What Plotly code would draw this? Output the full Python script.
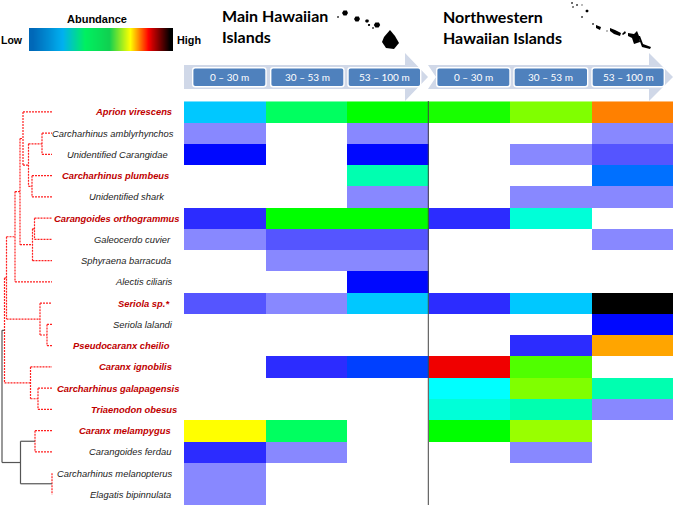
import plotly.graph_objects as go

W, H = 675, 507

# ---------- data ----------
SPECIES = ["Aprion virescens", "Carcharhinus amblyrhynchos", "Unidentified Carangidae",
           "Carcharhinus plumbeus", "Unidentified shark", "Carangoides orthogrammus",
           "Galeocerdo cuvier", "Sphyraena barracuda", "Alectis ciliaris", "Seriola sp.*",
           "Seriola lalandi", "Pseudocaranx cheilio", "Caranx ignobilis",
           "Carcharhinus galapagensis", "Triaenodon obesus", "Caranx melampygus",
           "Carangoides ferdau", "Carcharhinus melanopterus", "Elagatis bipinnulata"]
HIGHLIGHTED = [1, 0, 0, 1, 0, 1, 0, 0, 0, 1, 0, 1, 1, 1, 1, 1, 0, 0, 0]
DEPTHS = ["0 – 30 m", "30 – 53 m", "53 – 100 m"]
N = None
# abundance level per species (rows) and region/depth (columns)
ABUNDANCE = [
    [7, 11, 12, 13, 15, 19],
    [1, N, 1, N, N, 1],
    [4, N, 4, N, 1, 2],
    [N, N, 10, N, N, 6],
    [N, N, 1, N, 1, 1],
    [3, 12, 12, 3, 9, N],
    [1, 2, 2, N, N, 1],
    [N, 1, 1, N, N, N],
    [N, N, 4, N, N, N],
    [2, 1, 7, 3, 7, 21],
    [N, N, N, N, N, 4],
    [N, N, N, N, 3, 18],
    [N, 3, 5, 20, 14, N],
    [N, N, N, 8, 15, 10],
    [N, N, N, 9, 10, 1],
    [17, 11, N, 12, 16, N],
    [3, 1, N, N, 1, N],
    [1, N, N, N, N, N],
    [1, N, N, N, N, N],
]
LEGEND_LEVELS = [0, .05, .1, .15, .2, .25, .3, .35, .4, .45, .5, .55, .6, .65, .7, .75, .8, .85, .9, .95, 1]

# dendrogram: (branch x, child, child); an integer child is a row of SPECIES
TREE = (2, (4.5, (6.5, (15, (20, (23, 0, (28.5, (42, 1, 2), (32, 3, 4))),
                         (32.5, (34.5, 5, 6), 7)), 8),
                 (40, 9, (47, 10, 11))),
            (30.5, 12, (38, 13, 14))),
        (20.5, (35, 15, 16), (52, 17, 18)))
GRAY_NODES = [2, 20.5]

# ---------- styling ----------
PALETTE = ["#8888ff", "#5555ff", "#2c2cff", "#0008ff", "#0040ff", "#0070ff", "#00c8ff", "#00ffff",
           "#00ffd8", "#00ffb0", "#00ff60", "#00ff00", "#18ff00", "#50ff00", "#80ff00", "#99ff00",
           "#ffff00", "#ffa500", "#ff8000", "#f00000", "#000000"]
n = len(PALETTE)
CSCALE = []
for i, c in enumerate(PALETTE):
    CSCALE += [[i / n, c], [(i + 1) / n, c]]
LEGEND_SCALE = [[0, "#0068b8"], [.22, "#00b0f0"], [.38, "#00f060"], [.56, "#10d050"], [.71, "#ffff00"],
                [.84, "#ff0000"], [.93, "#700000"], [1, "#000000"]]
LEAF_END = 52
LABEL_RIGHT = [174, 176, 170, 171, 167, 181.5, 173, 172.5, 174.5, 172, 174.5, 172, 174, 181, 178.5, 173,
               173.5, 173.5, 172.5]
RED, GRAY, TXT = "#ff2020", "#555555", "#222222"

fig = go.Figure()

# heatmap
fig.add_trace(go.Heatmap(z=ABUNDANCE, x=list(range(6)), y=list(range(len(SPECIES))), zmin=0.5, zmax=n + .5,
                         colorscale=CSCALE, showscale=False, hoverongaps=False, xaxis="x", yaxis="y"))
# legend ramp
fig.add_trace(go.Heatmap(z=[LEGEND_LEVELS], zmin=0, zmax=1, colorscale=LEGEND_SCALE, showscale=False,
                         zsmooth="best", xaxis="x2", yaxis="y2"))

# dendrogram, positioned from the row axis
def walk(node, segs):
    if isinstance(node, int):
        return node, LEAF_END
    bx, a, b = node
    ya, xa = walk(a, segs)
    yb, xb = walk(b, segs)
    col = GRAY if bx in GRAY_NODES else RED
    segs.append((RED if bx == LEAF_END else col, [bx, bx], [ya, yb]))
    for yc, xc in ((ya, xa), (yb, xb)):
        if xc != bx:
            segs.append((col, [bx, xc], [yc, yc]))
    return (ya + yb) / 2, bx

segs = []
walk(TREE, segs)
for col, xs, ys in segs:
    fig.add_trace(go.Scatter(x=xs, y=ys, mode="lines", xaxis="x3", yaxis="y", hoverinfo="skip",
                             line=dict(color=col, width=1.2, dash="solid" if col == GRAY else "2px,1px")))

# ---------- decoration (page pixels) ----------
def poly(pts, fill, line=None, lw=0):
    d = "M" + " L".join(f"{x},{y}" for x, y in pts) + " Z"
    return dict(type="path", path=d, xref="x3", yref="y3", fillcolor=fill, layer="below",
                line=dict(color=line or fill, width=lw))

def round_rect(x0, x1, y0, y1, r=2.5):
    d = (f"M{x0+r},{y0} L{x1-r},{y0} Q{x1},{y0} {x1},{y0+r} L{x1},{y1-r} Q{x1},{y1} {x1-r},{y1} "
         f"L{x0+r},{y1} Q{x0},{y1} {x0},{y1-r} L{x0},{y0+r} Q{x0},{y0} {x0+r},{y0} Z")
    return dict(type="path", path=d, xref="x3", yref="y3", fillcolor="#4f81bd", layer="below",
                line=dict(color="white", width=1.4))

def blob(x, y, r):
    return [(x - r, y), (x - r * .5, y - r * .8), (x + r * .6, y - r * .8), (x + r, y), (x + r * .5, y + r * .8),
            (x - r * .5, y + r * .8)]

shapes = []
BAND = "#d0d8e8"
shapes.append(poly([(184, 65), (405, 65), (405, 53), (428, 77), (405, 101), (405, 89), (184, 89)], BAND))
shapes.append(poly([(428, 65), (649, 65), (649, 53), (673, 77), (649, 101), (649, 89), (428, 89), (436, 77)], BAND))
BUTTONS = [(192.7, 266), (270.7, 344), (348, 420.7), (436.7, 510), (514, 587.7), (592, 664.3)]
for x0, x1 in BUTTONS:
    shapes.append(round_rect(x0, x1, 67.7, 86.7))

ISLANDS = [blob(345, 13, 3), blob(338, 17, 1), blob(357, 19, 3), blob(367, 21, 2), blob(377, 25, 3.2),
           blob(369, 25, 1.2), blob(373, 28, 1),
           [(384, 37), (390, 30), (395, 36), (399, 43), (394, 49), (386, 48), (382, 42)],
           blob(572, 3, 1), blob(573, 7, .8), blob(577, 5, 1), blob(582, 5, .7), blob(587, 11, 1.6), blob(582, 17, 1),
           blob(593, 24, 1), [(596, 25), (601, 27), (600, 30), (596, 28)], blob(607, 31, .7),
           [(610, 28), (615, 30), (621, 33), (620, 36), (614, 34), (610, 31)], [(622, 34), (625, 31), (626, 33), (623, 35)],
           [(628, 33), (634, 34), (637, 31), (639, 36), (640, 42), (634, 44), (632, 38), (628, 36)],
           [(638, 36), (640, 36), (643, 44), (651, 47), (650, 49), (642, 47)]]
for p in ISLANDS:
    shapes.append(poly(p, "black"))

shapes.append(dict(type="line", x0=428.3, x1=428.3, y0=101, y1=505, xref="x3", yref="y3",
                   line=dict(color="#444444", width=1), layer="above"))

# ---------- text ----------
anns = []
def text(x, y, s, size, color="black", family="Liberation Sans", xanchor="center", yref="y3"):
    anns.append(dict(x=x, y=y, text=s, xref="x3", yref=yref, showarrow=False, xanchor=xanchor, yanchor="middle",
                     font=dict(size=size, color=color, family=family), align="left"))

for i, name in enumerate(SPECIES):
    s = f"<b><i>{name}</i></b>" if HIGHLIGHTED[i] else f"<i>{name}</i>"
    text(LABEL_RIGHT[i], i, s, 9.4, "#c00000" if HIGHLIGHTED[i] else TXT, xanchor="right", yref="y")

text(97, 19, "<b>Abundance</b>", 11)
text(12, 40, "<b>Low</b>", 10.5)
text(189, 40, "<b>High</b>", 10.8)
for x, y, s in [(220, 15, "Main Hawaiian"), (220, 36, "Islands"), (441, 16, "Northwestern"), (441, 37, "Hawaiian Islands")]:
    text(x, y, f"<b>{s}</b>", 16, "black", "Lato", "left")
for (x0, x1), s in zip(BUTTONS, DEPTHS * 2):
    text((x0 + x1) / 2, 76.5, s, 10, "white", "Lato")

hidden = dict(visible=False, showgrid=False, zeroline=False, fixedrange=True)
fig.update_layout(
    width=W, height=H, margin=dict(l=0, r=0, t=0, b=0), paper_bgcolor="white", plot_bgcolor="rgba(0,0,0,0)",
    showlegend=False, shapes=shapes, annotations=anns,
    xaxis=dict(hidden, range=[-.5, 5.5], domain=[184 / W, 673.3 / W]),
    yaxis=dict(hidden, range=[18.5, -.5], domain=[1 - 505 / H, 1 - 101.3 / H]),
    xaxis2=dict(hidden, domain=[29 / W, 173 / W], anchor="y2"),
    yaxis2=dict(hidden, domain=[1 - 51 / H, 1 - 28 / H], anchor="x2"),
    xaxis3=dict(hidden, range=[0, W], domain=[0, 1], anchor="y3"),
    yaxis3=dict(hidden, range=[H, 0], domain=[0, 1], anchor="x3"),
)
fig.write_html("out.html", config=dict(displayModeBar=False),
               post_script="document.body.style.margin='0';document.body.style.overflow='hidden';")
